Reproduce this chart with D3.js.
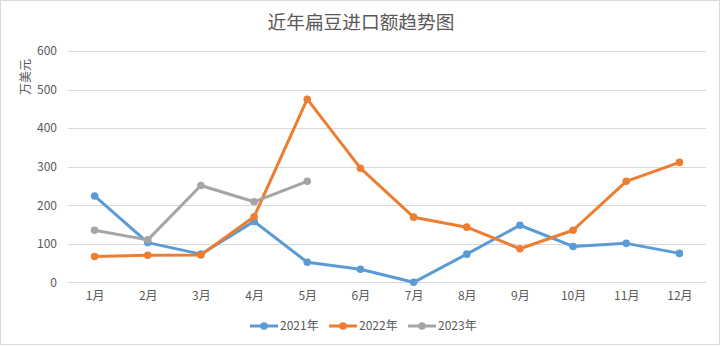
<!DOCTYPE html>
<html>
<head>
<meta charset="utf-8">
<script src="https://cdn.jsdelivr.net/npm/d3@7"></script>
<style>
  html, body { margin: 0; padding: 0; background: #fff; }
  svg { display: block; }
  text { font-family: "Noto Sans CJK SC", "Noto Sans", sans-serif; fill: #595959; }
</style>
</head>
<body>
<svg id="chart" width="721" height="346"></svg>
<script>
// Lentil import value by month (万美元)
const months = ["1月","2月","3月","4月","5月","6月","7月","8月","9月","10月","11月","12月"];
const years = ["2021年","2022年","2023年"];
const values2021 = [224, 103, 73, 158, 52, 34, 0, 73, 148, 93, 101, 75];
const values2022 = [67, 70, 71, 170, 475, 296, 169, 143, 87, 135, 262, 311];
const values2023 = [135, 110, 251, 209, 262];
const yTicks = [0, 100, 200, 300, 400, 500, 600];
const colors = ["#5B9BD5", "#ED7D31", "#A5A5A5"];

const seriesList = [values2021, values2022, values2023].map((vals, i) => ({
  name: years[i],
  color: colors[i],
  points: vals.map((v, j) => ({ month: months[j], value: v }))
}));

const svg = d3.select("#chart");
const W = 721, H = 346;
const plot = { left: 68, right: 706, top: 51, bottom: 282.3 };

// outer chart frame
svg.append("rect")
  .attr("x", 0.5).attr("y", 0.5)
  .attr("width", W - 2).attr("height", H - 2)
  .attr("fill", "#fff").attr("stroke", "#D9D9D9");

const x = d3.scalePoint().domain(months).range([plot.left, plot.right]).padding(0.5);
const y = d3.scaleLinear().domain([0, 600]).range([plot.bottom, plot.top]);

// horizontal gridlines
svg.append("g")
  .selectAll("line")
  .data(yTicks)
  .join("line")
  .attr("x1", plot.left).attr("x2", plot.right)
  .attr("y1", d => Math.round(y(d)) + 0.5).attr("y2", d => Math.round(y(d)) + 0.5)
  .attr("stroke", "#D9D9D9").attr("stroke-width", 1);

// y axis labels
const yAxis = svg.append("g")
  .attr("transform", `translate(${plot.left - 11},0)`)
  .call(d3.axisLeft(y).tickValues(yTicks).tickSize(0).tickPadding(0));
yAxis.select(".domain").remove();
yAxis.selectAll("text")
  .attr("font-size", 12)
  .attr("fill", "#595959")
  .style("font-family", "'Noto Sans CJK SC', sans-serif");

// x axis labels
const xAxis = svg.append("g")
  .attr("transform", `translate(0,${plot.bottom + 9})`)
  .call(d3.axisBottom(x).tickSize(0).tickPadding(0));
xAxis.select(".domain").remove();
xAxis.selectAll("text")
  .attr("font-size", 12)
  .attr("fill", "#595959")
  .style("font-family", "'Noto Sans CJK SC', sans-serif");

// title
svg.append("text")
  .attr("x", 361).attr("y", 29)
  .attr("text-anchor", "middle")
  .attr("font-size", 18.7)
  .text("近年扁豆进口额趋势图");

// y axis title
svg.append("text")
  .attr("transform", "translate(30,77) rotate(-90)")
  .attr("text-anchor", "middle")
  .attr("font-size", 12)
  .text("万美元");

// series lines and markers
const line = d3.line().x(d => x(d.month)).y(d => y(d.value));
const seriesG = svg.append("g");
seriesList.forEach(s => {
  const g = seriesG.append("g");
  g.append("path")
    .datum(s.points)
    .attr("d", line)
    .attr("fill", "none")
    .attr("stroke", s.color)
    .attr("stroke-width", 3)
    .attr("stroke-linejoin", "round")
    .attr("stroke-linecap", "round");
  g.selectAll("circle")
    .data(s.points)
    .join("circle")
    .attr("cx", d => x(d.month)).attr("cy", d => y(d.value))
    .attr("r", 3.8)
    .attr("fill", s.color);
});

// legend
const legendX = [250, 329, 408];
const legend = svg.append("g");
seriesList.forEach((s, i) => {
  const g = legend.append("g").attr("transform", `translate(${legendX[i]},326)`);
  g.append("line").attr("x1", 0).attr("x2", 28).attr("y1", 0).attr("y2", 0)
    .attr("stroke", s.color).attr("stroke-width", 3);
  g.append("circle").attr("cx", 14).attr("cy", 0).attr("r", 3.8).attr("fill", s.color);
  g.append("text").attr("x", 30).attr("y", 4.3)
    .attr("font-size", 12)
    .text(s.name);
});
</script>
</body>
</html>
